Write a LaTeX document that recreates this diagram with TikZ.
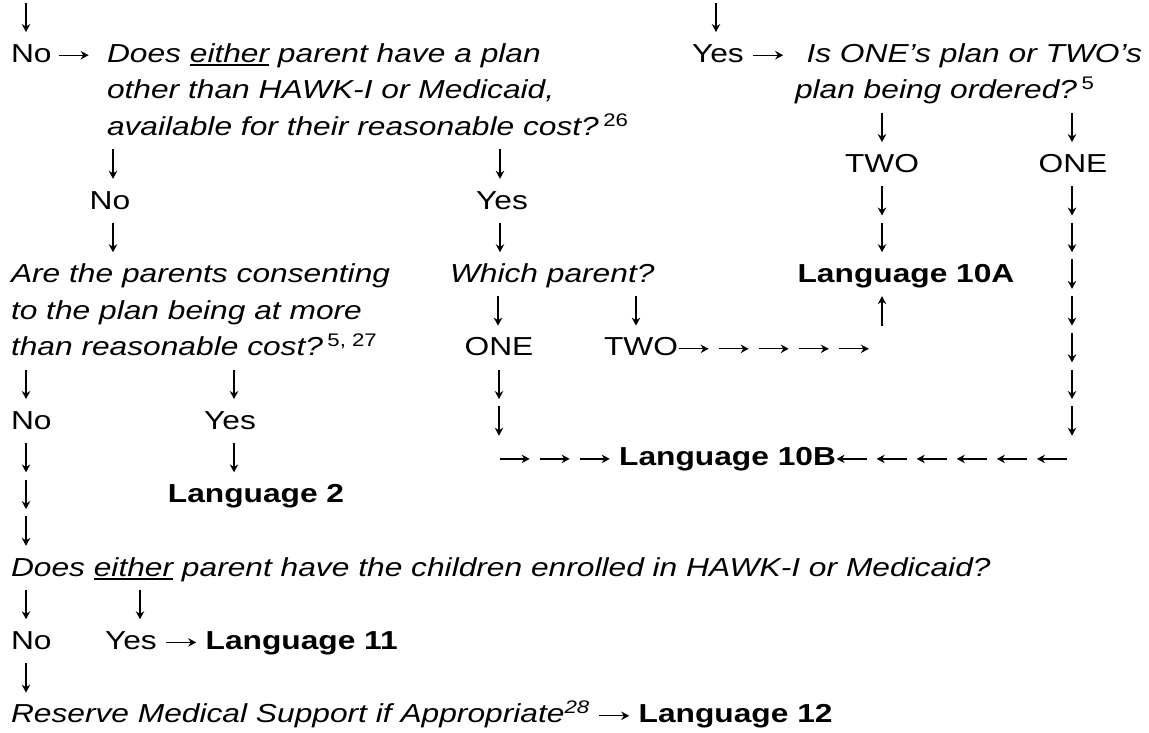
\documentclass[tikz,border=0pt]{standalone}
\usepackage{fontspec}
\usetikzlibrary{arrows.meta}
\setmainfont{Liberation Sans}[FakeStretch=1.22]
\newcommand\ulw[1]{\setbox0\hbox{#1}\rlap{\rule[-3.8pt]{\wd0}{1.7pt}}\box0\relax}
\newcommand\sps[1]{\,{\upshape\textsuperscript{#1}}}
\tikzset{ga/.style={line width=1.25pt, -{Stealth[length=8pt,width=8.5pt,inset=2.6pt]}}}
\newcommand\arR{\tikz[baseline=0pt]\draw[ga] (0pt,7pt) -- (30pt,7pt);}
\newcommand\arL{\tikz[baseline=0pt]\draw[ga] (30pt,7pt) -- (0pt,7pt);}
\newcommand\arD{\tikz[baseline=0pt]\draw[ga] (0pt,23pt) -- (0pt,-6.5pt);}
\newcommand\arU{\tikz[baseline=0pt]\draw[ga] (0pt,-6.5pt) -- (0pt,23pt);}
\begin{document}
\begin{tikzpicture}[x=1pt,y=-1pt,
  every node/.style={inner sep=0pt, outer sep=0pt, font=\fontsize{26}{31}\selectfont},
  L/.style={anchor=base west}, C/.style={anchor=base}, R/.style={anchor=base east},
  it/.style={font=\fontsize{26}{31}\selectfont\itshape},
  bf/.style={font=\fontsize{26}{31}\selectfont\bfseries}]
\useasboundingbox[fill=white] (0,0) rectangle (1149,732);
% row 0
\node[C] (d0a) at (26,25.5) {\arD};
\node[C] (d0b) at (716,25.5) {\arD};
% row 1-3
\node[L] (no1) at (11,62.2) {No};
\node[L] (r1) at (58,62.2) {\arR};
\node[L,it] (q1a) at (107,62.2) {Does \ulw{either} parent have a plan};
\node[L,it] (q1b) at (107,98.9) {other than HAWK-I or Medicaid,};
\node[L,it] (q1c) at (107,135.6) {available for their reasonable cost?\sps{26}};
\node[L] (yes1) at (692,62.2) {Yes \arR};
\node[R,it] (q2a) at (1142,62.2) {Is ONE’s plan or TWO’s};
\node[L,it] (q2b) at (795,98.9) {plan being ordered?\sps{5}};
\node[C] (d3a) at (882,135.6) {\arD};
\node[C] (d3b) at (1072,135.6) {\arD};
% row 4
\node[C] (d4a) at (113,172.3) {\arD};
\node[C] (d4b) at (500,172.3) {\arD};
\node[C] (two1) at (882,172.3) {TWO};
\node[C] (one1) at (1073,172.3) {ONE};
% row 5
\node[C] (no2) at (110,209) {No};
\node[C] (yes2) at (502,209) {Yes};
\node[C] (d5a) at (882,209) {\arD};
\node[C] (d5b) at (1072,209) {\arD};
% row 6
\node[C] (d6a) at (113,245.7) {\arD};
\node[C] (d6b) at (500,245.7) {\arD};
\node[C] (d6c) at (882,245.7) {\arD};
\node[C] (d6d) at (1072,245.7) {\arD};
% row 7-9
\node[L,it] (q3a) at (11,282.4) {Are the parents consenting};
\node[L,it] (q3b) at (11,319.1) {to the plan being at more};
\node[L,it] (q3c) at (11,355.8) {than reasonable cost?\sps{5, 27}};
\node[L,it] (q4) at (450,282.4) {Which parent?};
\node[C,bf] (l10a) at (906,282.4) {Language 10A};
\node[C] (d7) at (1072,282.4) {\arD};
\node[C] (d8a) at (498,319.1) {\arD};
\node[C] (d8b) at (636,319.1) {\arD};
\node[C] (u8) at (882,319.1) {\arU};
\node[C] (d8c) at (1072,319.1) {\arD};
\node[C] (one2) at (499,355.8) {ONE};
\node[L] (two2) at (604,355.8) {TWO\arR\ \arR\ \arR\ \arR\ \arR};
\node[C] (d9) at (1072,355.8) {\arD};
% row 10
\node[C] (d10a) at (26,392.5) {\arD};
\node[C] (d10b) at (234,392.5) {\arD};
\node[C] (d10c) at (499,392.5) {\arD};
\node[C] (d10d) at (1072,392.5) {\arD};
% row 11
\node[L] (no3) at (11,429.2) {No};
\node[C] (yes3) at (230,429.2) {Yes};
\node[C] (d11a) at (499,429.2) {\arD};
\node[C] (d11b) at (1072,429.2) {\arD};
% row 12
\node[C] (d12a) at (26,465.9) {\arD};
\node[C] (d12b) at (234,465.9) {\arD};
\node[L] (l10b) at (499,465.9) {\arR\ \arR\ \arR\ \textbf{Language 10B}\arL\ \arL\ \arL\ \arL\ \arL\ \arL};
% row 13-14
\node[C] (d13) at (26,502.6) {\arD};
\node[C,bf] (l2) at (256,502.6) {Language 2};
\node[C] (d14) at (26,539.3) {\arD};
% row 15
\node[L,it] (q5) at (11,576) {Does \ulw{either} parent have the children enrolled in HAWK-I or Medicaid?};
% row 16
\node[C] (d16a) at (26,612.7) {\arD};
\node[C] (d16b) at (140,612.7) {\arD};
% row 17
\node[L] (no4) at (11,649.4) {No};
\node[L] (yes4) at (105,649.4) {Yes \arR\ \textbf{Language 11}};
% row 18
\node[C] (d18) at (26,686.1) {\arD};
% row 19
\node[L] (res) at (11,722.8) {\itshape Reserve Medical Support if Appropriate\textsuperscript{28}\upshape\ \arR\ \textbf{Language 12}};
\end{tikzpicture}
\end{document}
